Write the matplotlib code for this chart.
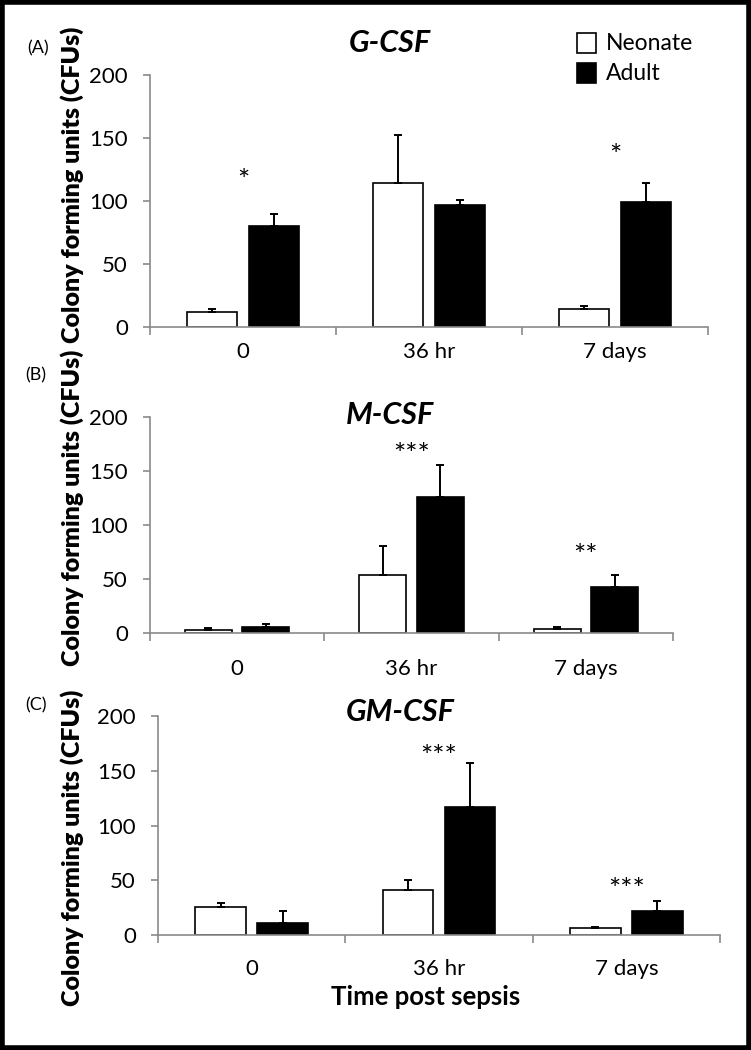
import numpy as np
import matplotlib
matplotlib.use("Agg")
import matplotlib.pyplot as plt
from matplotlib.patches import Rectangle

plt.rcParams['font.family'] = ['Lato', 'DejaVu Sans']

# dados
categories = ['0', '36 hr', '7 days']
groups = ['Neonate', 'Adult']

gcsf_neonate = [12, 114, 14]
gcsf_neonate_err = [2, 38, 3]
gcsf_adult = [80, 97, 99]
gcsf_adult_err = [10, 4, 15]
gcsf_stars = ['*', '', '*']
gcsf_star_y = [115, 0, 135]

mcsf_neonate = [3, 54, 4]
mcsf_neonate_err = [2, 27, 2]
mcsf_adult = [6, 126, 43]
mcsf_adult_err = [2, 30, 11]
mcsf_stars = ['', '***', '**']
mcsf_star_y = [0, 164, 70]

gmcsf_neonate = [26, 41, 6]
gmcsf_neonate_err = [3, 9, 1]
gmcsf_adult = [11, 117, 22]
gmcsf_adult_err = [11, 40, 9]
gmcsf_stars = ['', '***', '***']
gmcsf_star_y = [0, 162, 40]

titles = ['G-CSF', 'M-CSF', 'GM-CSF']
letters = ['(A)', '(B)', '(C)']
ylabel = 'Colony forming units (CFUs)'
xlabel = 'Time post sepsis'

W, H = 751, 1050
fig = plt.figure(figsize=(W / 100, H / 100), dpi=100)

# posição dos eixos em pixels (esq, dir, y do zero, y do 200)
boxes = [(150, 708, 327, 75), (150, 673, 633, 417), (158, 720, 935, 716)]
label_pads = [11, 19, 17]
title_xy = [(390, 43), (390, 415), (400, 712)]
letter_xy = [(38, 48), (36, 375), (36, 705)]
ylabel_y = [185, 508, 848]

panels = [
    (gcsf_neonate, gcsf_neonate_err, gcsf_adult, gcsf_adult_err, gcsf_stars, gcsf_star_y),
    (mcsf_neonate, mcsf_neonate_err, mcsf_adult, mcsf_adult_err, mcsf_stars, mcsf_star_y),
    (gmcsf_neonate, gmcsf_neonate_err, gmcsf_adult, gmcsf_adult_err, gmcsf_stars, gmcsf_star_y),
]

gray = '#8a8a8a'
x = np.arange(len(categories))
w = 0.27
off = 0.165

for i, (neo, neo_e, adu, adu_e, stars, star_y) in enumerate(panels):
    l, r, y0, y1 = boxes[i]
    ax = fig.add_axes([l / W, 1 - y0 / H, (r - l) / W, (y0 - y1) / H])
    ax.bar(x - off, neo, w, color='white', edgecolor='black', linewidth=1.2,
           yerr=[np.zeros(3), neo_e], error_kw=dict(ecolor='black', elinewidth=1.4, capsize=3, capthick=1.4))
    ax.bar(x + off, adu, w, color='black', edgecolor='black', linewidth=1.2,
           yerr=[np.zeros(3), adu_e], error_kw=dict(ecolor='black', elinewidth=1.4, capsize=3, capthick=1.4))
    for k, s in enumerate(stars):
        if s:
            ax.text(x[k], star_y[k], s, ha='center', va='center', fontsize=21)
    ax.set_xlim(-0.5, 2.5)
    ax.set_ylim(0, 200)
    ax.set_yticks([0, 50, 100, 150, 200])
    ax.set_xticks(x)
    ax.set_xticklabels(categories)
    ax.set_xticks([-0.5, 0.5, 1.5, 2.5], minor=True)
    ax.tick_params(axis='x', which='major', length=0, pad=label_pads[i], labelsize=16)
    ax.tick_params(axis='x', which='minor', length=6, color=gray, width=1.2, direction='out')
    ax.tick_params(axis='y', length=5, color=gray, width=1.2, direction='out', labelsize=16, pad=11)
    for sp in ['top', 'right']:
        ax.spines[sp].set_visible(False)
    for sp in ['left', 'bottom']:
        ax.spines[sp].set_color(gray)
        ax.spines[sp].set_linewidth(1.2)

    fig.text(title_xy[i][0] / W, 1 - title_xy[i][1] / H, titles[i], ha='center', va='center',
             fontsize=22, fontweight='bold', style='italic')
    fig.text(letter_xy[i][0] / W, 1 - letter_xy[i][1] / H, letters[i], ha='center', va='center', fontsize=13)
    fig.text(72 / W, 1 - ylabel_y[i] / H, ylabel, rotation=90, ha='center', va='center',
             fontsize=18, fontweight='heavy')

    if i == 0:
        # legenda
        for j, (name, fc) in enumerate(zip(groups, ['white', 'black'])):
            yy = 43 + j * 30
            fig.patches.append(Rectangle((577 / W, 1 - (yy + 10) / H), 19 / W, 20 / H, facecolor=fc,
                                         edgecolor='black', linewidth=1.2, transform=fig.transFigure))
            fig.text(606 / W, 1 - yy / H, name, ha='left', va='center', fontsize=16.5)

fig.text(426 / W, 1 - 997 / H, xlabel, ha='center', va='center', fontsize=18.5, fontweight='bold')

# moldura preta
fig.patches.append(Rectangle((0.002, 0.002), 0.996, 0.996, fill=False, edgecolor='black',
                             linewidth=4, transform=fig.transFigure))

fig.savefig('out.png', dpi=100)
